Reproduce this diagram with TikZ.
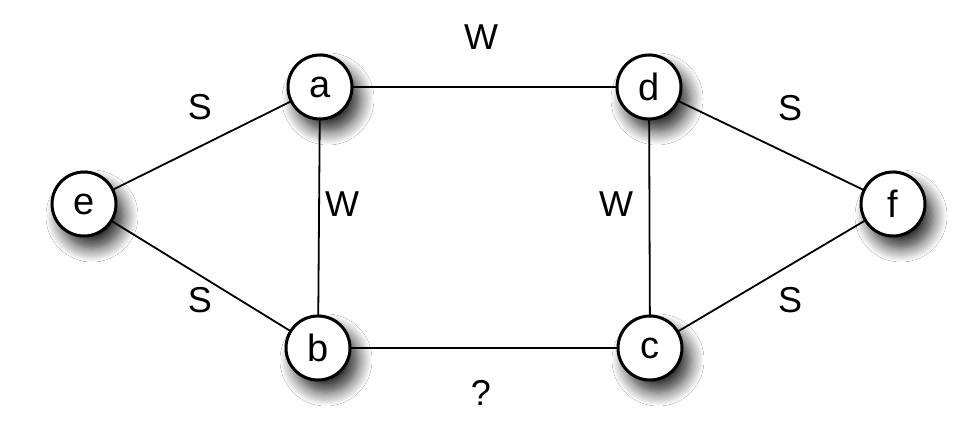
\documentclass[tikz,border=0pt]{standalone}
\usepackage{fontspec}
\setmainfont{Liberation Sans}
\usetikzlibrary{shadows.blur}
\begin{document}
\begin{tikzpicture}[x=1pt,y=-1pt,
  vertex/.style={circle,draw=black,line width=3pt,fill=white,minimum size=64pt,inner sep=0pt,
    font=\fontsize{38}{38}\selectfont,
    blur shadow={shadow xshift=8pt,shadow yshift=-12pt,shadow blur radius=14pt,
      shadow blur steps=12,shadow opacity=85}},
  edge/.style={line width=1.8pt},
  lbl/.style={font=\fontsize{36}{36}\selectfont,inner sep=0pt}]
\useasboundingbox (0,0) rectangle (958,434);
\fill[white] (0,0) rectangle (958,434);
% vertex positions
\coordinate (pa) at (320,87);
\coordinate (pd) at (649,87);
\coordinate (pe) at (84,204);
\coordinate (pf) at (893,204);
\coordinate (pb) at (318,348);
\coordinate (pc) at (650,348);
% edges first so circles sit on top
\draw[edge] (pa) -- (pd);
\draw[edge] (pa) -- (pb);
\draw[edge] (pa) -- (pe);
\draw[edge] (pe) -- (pb);
\draw[edge] (pb) -- (pc);
\draw[edge] (pd) -- (pc);
\draw[edge] (pd) -- (pf);
\draw[edge] (pc) -- (pf);
% vertices
\node[vertex] (a) at (pa) {a};
\node[vertex] (d) at (pd) {d};
\node[vertex] (e) at (pe) {e};
\node[vertex] (f) at (pf) {f};
\node[vertex] (b) at (pb) {b};
\node[vertex] (c) at (pc) {c};
% edge labels
\node[lbl] (lad) at (481,37) {W};
\node[lbl] (lea) at (200,107) {S};
\node[lbl] (ldf) at (790,108) {S};
\node[lbl] (lab) at (342,204) {W};
\node[lbl] (ldc) at (616,204) {W};
\node[lbl] (leb) at (200,300) {S};
\node[lbl] (lcf) at (790,300) {S};
\node[lbl] (lbc) at (481,393) {?};
\end{tikzpicture}
\end{document}
